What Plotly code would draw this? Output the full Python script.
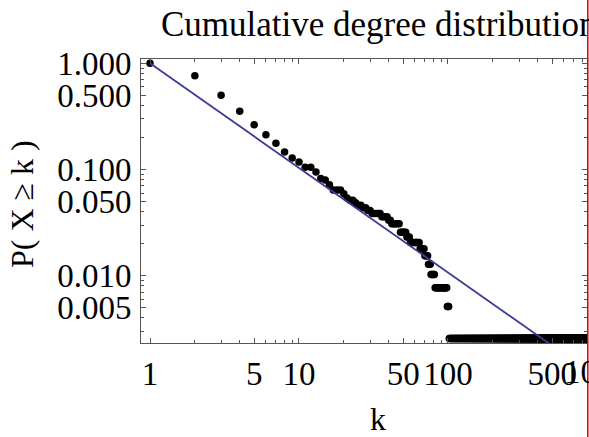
import math
import numpy as np
import plotly.graph_objects as go

# ---- data: empirical P(X >= k) given as runs of integer degrees k with node count m ----
N_NODES = 390
run_first = [1, 2, 3, 4, 5, 6, 7, 8, 9, 10, 11, 13, 14, 15, 16, 17, 20, 21, 22, 24, 25, 27, 29, 31, 36, 40, 42, 48, 53, 56, 65, 70, 74, 77, 82, 99, 102]
run_last  = [1, 2, 3, 4, 5, 6, 7, 8, 9, 10, 12, 13, 14, 15, 16, 19, 20, 21, 23, 24, 26, 28, 30, 35, 39, 41, 47, 52, 55, 64, 69, 73, 76, 81, 98, 101, 1000]
run_count = [390, 298, 195, 138, 103, 83, 69, 57, 50, 46, 41, 37, 32, 31, 28, 25, 23, 21, 20, 19, 18, 17, 16, 15, 14, 13, 12, 10, 9, 8, 7, 6, 5, 4, 3, 2, 1]

# power-law fit
fit_exponent = 0.985
fit_k = [1, 1000]

# tick labels
x_tickvals = [1, 5, 10, 50, 100, 500]
x_ticktext = ["1", "5", "10", "50", "100", "500"]
y_tickvals = [1, 0.5, 0.1, 0.05, 0.01, 0.005]
y_ticktext = ["1.000", "0.500", "0.100", "0.050", "0.010", "0.005"]

# ---- expand runs ----
ks, ps = [], []
for a, b, m in zip(run_first, run_last, run_count):
    for k in range(a, b + 1):
        ks.append(k)
        ps.append(m / N_NODES)

fit_p = [k ** (-fit_exponent) for k in fit_k]

FONT = "Liberation Serif"
TICK_SIZE = 33
W, H = 589, 437
ML, MR, MT, MB = 141, 2, 59, 94
XR = [-0.0604, 2.933]
YR = [-2.634, 0.0405]

fig = go.Figure()
fig.add_trace(go.Scatter(x=ks, y=ps, mode="markers",
                         marker=dict(color="black", size=7.5, line=dict(width=0)),
                         showlegend=False))
fig.add_trace(go.Scatter(x=fit_k, y=fit_p, mode="lines",
                         line=dict(color="#3d3d99", width=1.8),
                         showlegend=False))

minor_x = [d * 10 ** e for e in range(0, 4) for d in range(2, 10) if d * 10 ** e not in x_tickvals]
minor_y = [d * 10 ** e for e in range(-3, 1) for d in range(1, 10) if round(d * 10 ** e, 6) not in y_tickvals]

axis_col = "#555555"
fig.update_xaxes(type="log", range=XR, showgrid=False, zeroline=False,
                 showline=True, linecolor=axis_col, linewidth=1, mirror="ticks",
                 ticks="inside", ticklen=5, tickcolor=axis_col, tickwidth=1,
                 tickmode="array", tickvals=x_tickvals, ticktext=x_ticktext,
                 tickfont=dict(family=FONT, size=TICK_SIZE, color="black"),
                 ticklabelstandoff=1,
                 minor=dict(ticks="inside", ticklen=3, tickcolor=axis_col,
                            tickmode="array", tickvals=minor_x, showgrid=False))
fig.update_yaxes(type="log", range=YR, showgrid=False, zeroline=False,
                 showline=True, linecolor=axis_col, linewidth=1, mirror="ticks",
                 ticks="inside", ticklen=5, tickcolor=axis_col, tickwidth=1,
                 tickmode="array", tickvals=y_tickvals, ticktext=y_ticktext,
                 tickfont=dict(family=FONT, size=TICK_SIZE, color="black"),
                 ticklabelstandoff=2,
                 minor=dict(ticks="inside", ticklen=3, tickcolor=axis_col,
                            tickmode="array", tickvals=minor_y, showgrid=False))

pw = W - ML - MR
ph = H - MT - MB
def px_to_paper_x(px):
    return (px - ML) / pw
def px_to_paper_y(py):
    return (H - MB - py) / ph
def k_to_paper_x(k):
    return (math.log10(k) - XR[0]) / (XR[1] - XR[0])

annotations = [
    dict(text="Cumulative degree distribution", xref="paper", yref="paper",
         x=px_to_paper_x(159), y=px_to_paper_y(25), xanchor="left", yanchor="middle",
         showarrow=False, font=dict(family=FONT, size=35, color="black")),
    dict(text="k", xref="paper", yref="paper",
         x=px_to_paper_x(378), y=px_to_paper_y(419), xanchor="center", yanchor="middle",
         showarrow=False, font=dict(family=FONT, size=32, color="black")),
    dict(text="P( X ≥ k )", xref="paper", yref="paper", textangle=-90,
         x=px_to_paper_x(22), y=px_to_paper_y(204), xanchor="center", yanchor="middle",
         showarrow=False, font=dict(family=FONT, size=32, color="black")),
    # the 1000 tick label, cut by the picture edge
    dict(text="1000", xref="paper", yref="paper",
         x=k_to_paper_x(1000), y=px_to_paper_y(372), xanchor="center", yanchor="middle",
         showarrow=False, font=dict(family=FONT, size=TICK_SIZE, color="black")),
]

fig.update_layout(width=W, height=H, margin=dict(l=ML, r=MR, t=MT, b=MB, pad=0),
                  paper_bgcolor="white", plot_bgcolor="white",
                  annotations=annotations,
                  shapes=[dict(type="line", xref="paper", yref="paper",
                               x0=px_to_paper_x(587.8), x1=px_to_paper_x(587.8),
                               y0=px_to_paper_y(437), y1=px_to_paper_y(0),
                               line=dict(color="#dd0000", width=1.5))])

fig.write_html("out.html")
